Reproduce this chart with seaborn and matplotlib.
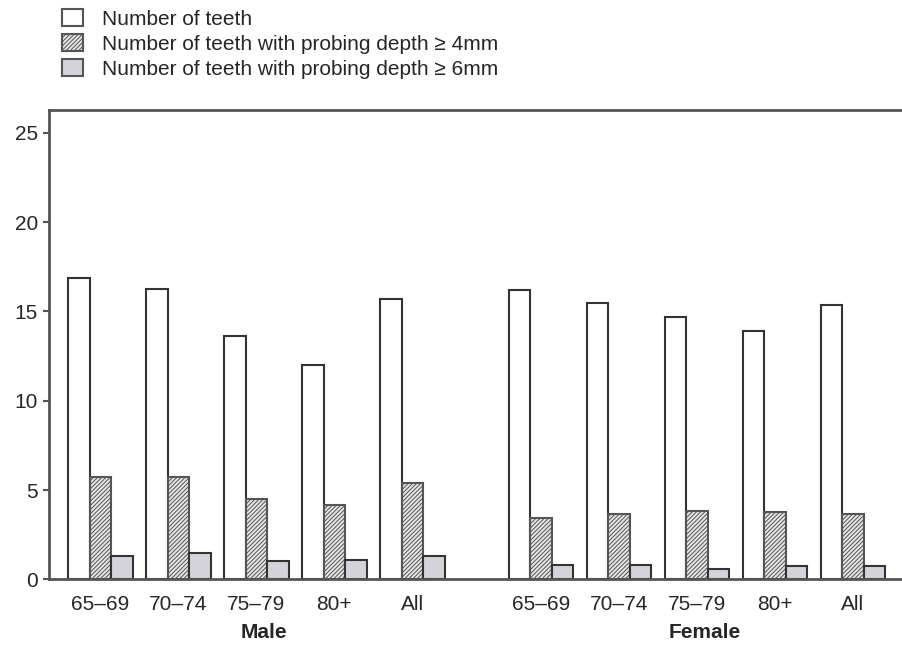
import matplotlib
matplotlib.use("Agg")
import matplotlib.pyplot as plt
from matplotlib.patches import Patch
import seaborn as sns
import pandas as pd

# ---- data ----
age_groups = ["65–69", "70–74", "75–79", "80+", "All"]
sexes = ["Male", "Female"]
series = ["Number of teeth",
          "Number of teeth with probing depth \u2265 4mm",
          "Number of teeth with probing depth \u2265 6mm"]

male_teeth = [16.85, 16.25, 13.62, 12.0, 15.69]
male_pd4 = [5.75, 5.71, 4.48, 4.18, 5.37]
male_pd6 = [1.30, 1.47, 1.02, 1.06, 1.29]

female_teeth = [16.2, 15.45, 14.67, 13.9, 15.36]
female_pd4 = [3.45, 3.66, 3.82, 3.75, 3.64]
female_pd6 = [0.82, 0.78, 0.56, 0.74, 0.74]

values = {
    "Male": [male_teeth, male_pd4, male_pd6],
    "Female": [female_teeth, female_pd4, female_pd6],
}

# ---- layout constants ----
group_gap = 0.65
rows = []
for si, sex in enumerate(sexes):
    offset = si * (len(age_groups) + group_gap)
    for k, s in enumerate(series):
        for i, ag in enumerate(age_groups):
            rows.append({"pos": i + offset, "series": s, "sex": sex,
                         "age": ag, "value": values[sex][k][i]})
df = pd.DataFrame(rows)

sns.set_style("white")
plt.rcParams["font.family"] = ["Liberation Sans", "DejaVu Sans"]
plt.rcParams["hatch.linewidth"] = 0.7
plt.rcParams["hatch.color"] = "#555555"

fig = plt.figure(figsize=(9.02, 6.45), dpi=100)
ax = fig.add_axes([49 / 902, 1 - 579.3 / 645, 1 - 49 / 902, (579.3 - 110) / 645])

edge = "#333333"
sns.barplot(data=df, x="pos", y="value", hue="series", hue_order=series,
            native_scale=True, width=0.83,
            palette=["white", "#e4e4e4", "#d3d3d9"],
            edgecolor=edge, linewidth=1.5, ax=ax, legend=False,
            errorbar=None, saturation=1)

hatch = "////////"
for p in ax.containers[1].patches:
    p.set_hatch(hatch)
    p.set_edgecolor("#555555")

ax.set_xlim(-0.66, 10.28)
ax.set_ylim(0, 26.28)
ax.set_yticks([0, 5, 10, 15, 20, 25])

positions = sorted(df["pos"].unique())
ax.set_xticks(positions)
ax.set_xticklabels(age_groups * 2)
ax.set_xlabel("")
ax.set_ylabel("")

ax.tick_params(axis="y", direction="out", length=4, width=1.5, color="#555555",
               labelsize=15, pad=4, left=True)
ax.tick_params(axis="x", length=0, labelsize=15, pad=11)

for side in ["left", "bottom", "top"]:
    ax.spines[side].set_visible(True)
    ax.spines[side].set_color("#555555")
    ax.spines[side].set_linewidth(2)
ax.spines["right"].set_visible(False)

for si, sex in enumerate(sexes):
    offset = si * (len(age_groups) + group_gap)
    ax.text(offset + 2.1, -0.113, sex, transform=ax.get_xaxis_transform(),
            ha="center", va="center", fontsize=15, fontweight="bold")

handles = [
    Patch(facecolor="white", edgecolor="#555555", linewidth=1.5),
    Patch(facecolor="#e4e4e4", edgecolor="#555555", linewidth=1.5, hatch=hatch),
    Patch(facecolor="#d3d3d9", edgecolor="#555555", linewidth=1.5),
]
fig.legend(handles, series, loc="upper left", bbox_to_anchor=(62 / 902, 1 - 9 / 645),
           frameon=False, fontsize=15, handlelength=1.0, handleheight=0.9,
           handletextpad=0.9, labelspacing=0.25, borderpad=0, borderaxespad=0)

fig.savefig("out.png", dpi=100)
